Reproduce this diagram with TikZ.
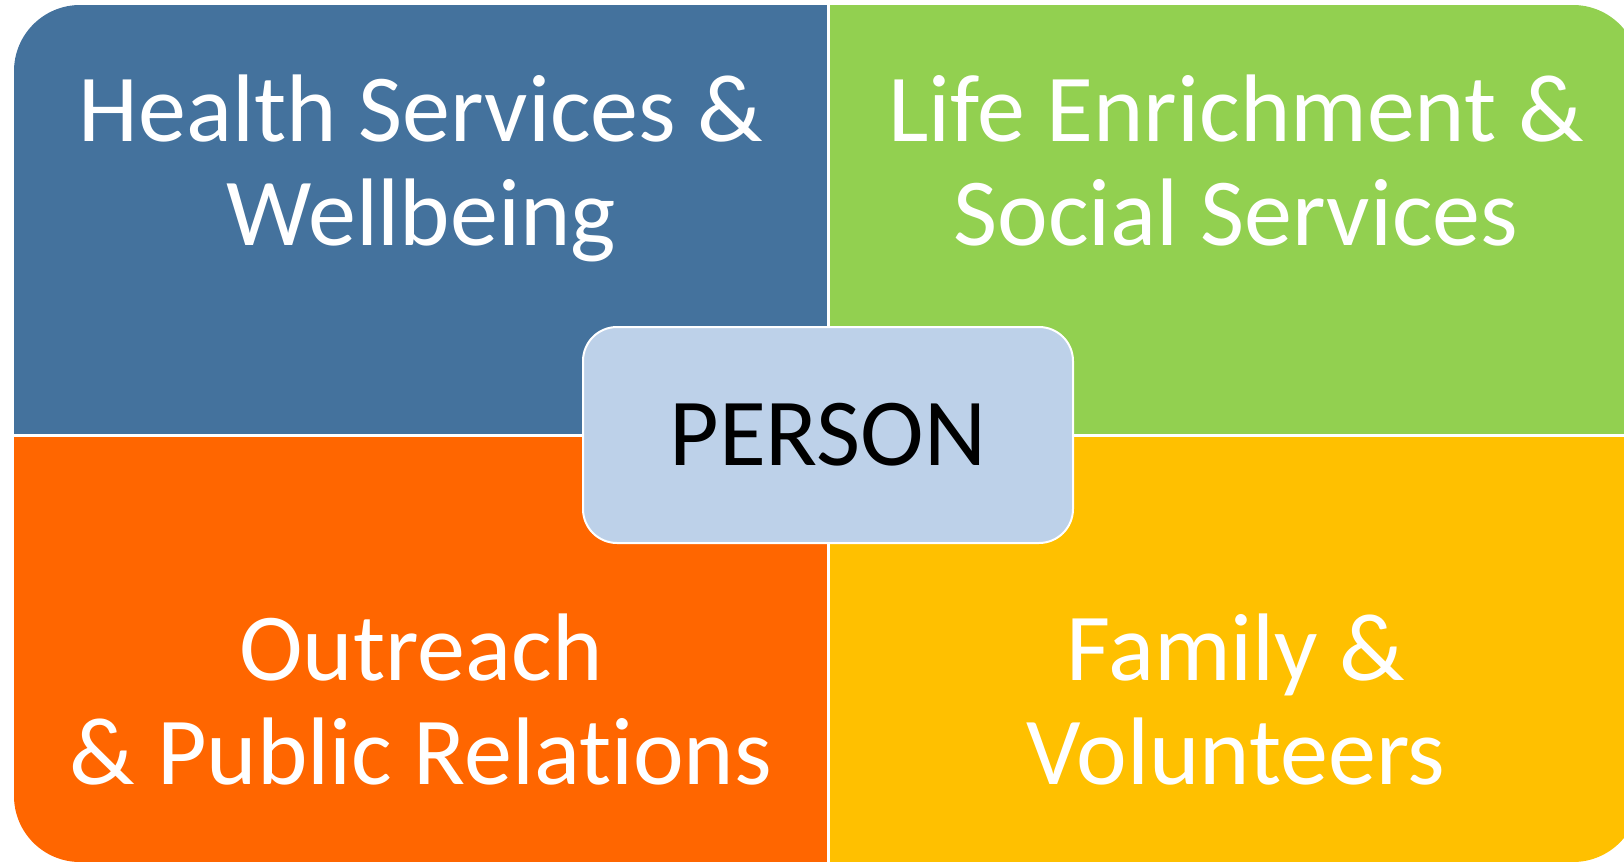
\documentclass[tikz,border=0pt]{standalone}
\usepackage{fontspec}
\setmainfont{Carlito}[Ligatures = NoCommon]
\definecolor{healthblue}{HTML}{44729D}
\definecolor{lifegreen}{HTML}{92D050}
\definecolor{outreachorange}{HTML}{FF6600}
\definecolor{familyyellow}{HTML}{FFC000}
\definecolor{personblue}{HTML}{BDD1E9}
\tikzset{
	quadtext/.style = {text = white, align = center, anchor = base, inner sep = 0pt,
		font = \fontsize{48pt}{52pt}\selectfont},
	personbox/.style = {fill = personblue, draw = white, line width = 1pt,
		rounded corners = 17pt, minimum width = 245pt, minimum height = 108pt,
		font = \fontsize{48pt}{52pt}\selectfont},
	divider/.style = {draw = white, line width = 1.5pt}
}

\begin{document}
\begin{tikzpicture}[x = 0.5pt, y = -0.5pt]

					\useasboundingbox (0,0) rectangle (1624,863);
					\clip (0,0) rectangle (1624,863);

					\begin{scope}
						\clip[rounded corners = 33pt] (14,5) rectangle (1639,862);
						\fill[healthblue] (14,5) rectangle (828,435);
						\fill[lifegreen] (828,5) rectangle (1639,435);
						\fill[outreachorange] (14,435) rectangle (828,862);
						\fill[familyyellow] (828,435) rectangle (1639,862);
					\end{scope}

					\draw[divider] (828,0) -- (828,863);
					\draw[divider] (0,435) -- (1624,435);

					\node[quadtext] (health) at (421,245) {Health Services \&\\Wellbeing};
					\node[quadtext] (life) at (1236,245) {Life Enrichment \&\\Social Services};
					\node[quadtext] (outreach) at (421,784) {Outreach\\\& Public Relations};
					\node[quadtext] (family) at (1236,784) {Family \&\\Volunteers};

					\node[personbox] (person) at (828,435) {PERSON};

				\end{tikzpicture}
\end{document}
